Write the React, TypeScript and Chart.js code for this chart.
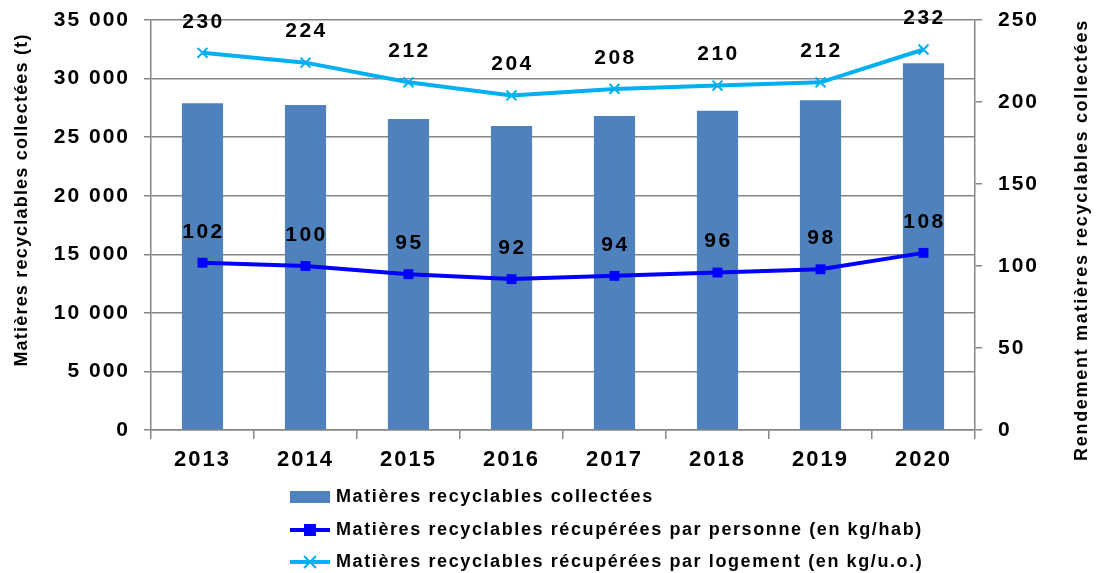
import React, { useEffect, useRef } from 'react';
import { Chart, registerables } from 'chart.js';
Chart.register(...registerables);

const years = ['2013', '2014', '2015', '2016', '2017', '2018', '2019', '2020'];
const tonnage = [27900, 27750, 26550, 25950, 26800, 27250, 28150, 31300];
const perPerson = [102, 100, 95, 92, 94, 96, 98, 108];
const perDwelling = [230, 224, 212, 204, 208, 210, 212, 232];

const labelBars = 'Matières recyclables collectées';
const labelPerson = 'Matières recyclables récupérées par personne (en kg/hab)';
const labelDwelling = 'Matières recyclables récupérées par logement (en kg/u.o.)';
const leftTitle = 'Matières recyclables collectées (t)';
const rightTitle = 'Rendement matières recyclables collectées';

const FONT = '"Liberation Sans", Arial, sans-serif';
const GRID = '#868686';
const BAR = '#4F81BD';
const BLUE = '#0000FF';
const CYAN = '#00B0F0';

const fmt = (v: number) => String(v).replace(/\B(?=(\d{3})+(?!\d))/g, ' ');

const customPlugin = {
  id: 'custom',
  beforeDraw(chart: any) {
    chart.ctx.letterSpacing = '2px';
  },
  afterDatasetsDraw(chart: any) {
    const ctx = chart.ctx;
    ctx.save();
    ctx.font = `bold 21px ${FONT}`;
    ctx.letterSpacing = '2.5px';
    ctx.fillStyle = '#000';
    ctx.textAlign = 'center';
    ctx.textBaseline = 'middle';
    [1, 2].forEach((di) => {
      const meta = chart.getDatasetMeta(di);
      const data = chart.data.datasets[di].data;
      meta.data.forEach((pt: any, i: number) => {
        ctx.fillText(String(data[i]), pt.x + 1, pt.y - 31);
      });
    });
    ctx.restore();
  },
  afterDraw(chart: any) {
    const ctx = chart.ctx;
    ctx.save();
    ctx.font = `bold 18px ${FONT}`;
    ctx.letterSpacing = '1.2px';
    ctx.fillStyle = '#000';
    ctx.textAlign = 'center';
    ctx.textBaseline = 'middle';
    ctx.translate(22, 200);
    ctx.rotate(-Math.PI / 2);
    ctx.fillText(leftTitle, 0, 0);
    ctx.restore();
    ctx.save();
    ctx.font = `bold 18px ${FONT}`;
    ctx.letterSpacing = '1.7px';
    ctx.fillStyle = '#000';
    ctx.textAlign = 'center';
    ctx.textBaseline = 'middle';
    ctx.translate(1082, 240);
    ctx.rotate(-Math.PI / 2);
    ctx.fillText(rightTitle, 0, 0);
    ctx.restore();

    // legend
    ctx.save();
    const x0 = 290, x1 = 330, tx = 336;
    const rows = [497, 530, 562];
    ctx.font = `bold 18px ${FONT}`;
    ctx.letterSpacing = '1.6px';
    ctx.textAlign = 'left';
    ctx.textBaseline = 'middle';
    ctx.fillStyle = BAR;
    ctx.fillRect(x0, rows[0] - 6, x1 - x0, 12);
    ctx.strokeStyle = BLUE;
    ctx.lineWidth = 4;
    ctx.beginPath();
    ctx.moveTo(x0, rows[1]);
    ctx.lineTo(x1, rows[1]);
    ctx.stroke();
    ctx.fillStyle = BLUE;
    ctx.fillRect((x0 + x1) / 2 - 6, rows[1] - 6, 12, 12);
    ctx.strokeStyle = CYAN;
    ctx.beginPath();
    ctx.moveTo(x0, rows[2]);
    ctx.lineTo(x1, rows[2]);
    ctx.stroke();
    ctx.lineWidth = 2;
    const cx = (x0 + x1) / 2;
    ctx.beginPath();
    ctx.moveTo(cx - 6, rows[2] - 6);
    ctx.lineTo(cx + 6, rows[2] + 6);
    ctx.moveTo(cx + 6, rows[2] - 6);
    ctx.lineTo(cx - 6, rows[2] + 6);
    ctx.stroke();
    ctx.fillStyle = '#000';
    ctx.fillText(labelBars, tx, rows[0]);
    ctx.fillText(labelPerson, tx, rows[1]);
    ctx.fillText(labelDwelling, tx, rows[2]);
    ctx.restore();
  },
};

export default function App() {
  const ref = useRef<HTMLCanvasElement>(null);
  useEffect(() => {
    document.body.style.margin = '0';
    const chart = new Chart(ref.current!, {
      type: 'bar',
      data: {
        labels: years,
        datasets: [
          {
            type: 'bar',
            label: labelBars,
            data: tonnage,
            backgroundColor: BAR,
            yAxisID: 'y',
            barPercentage: 0.4,
            categoryPercentage: 1,
            order: 3,
          },
          {
            type: 'line',
            label: labelPerson,
            data: perPerson,
            borderColor: BLUE,
            backgroundColor: BLUE,
            borderWidth: 4,
            pointStyle: 'rect',
            pointRadius: 7,
            pointBorderWidth: 0,
            yAxisID: 'y1',
            order: 1,
          },
          {
            type: 'line',
            label: labelDwelling,
            data: perDwelling,
            borderColor: CYAN,
            backgroundColor: CYAN,
            borderWidth: 4,
            pointStyle: 'crossRot',
            pointRadius: 7,
            pointBorderWidth: 2,
            yAxisID: 'y1',
            order: 2,
          },
        ] as any,
      },
      options: {
        animation: false,
        responsive: false,
        layout: { padding: { top: 20, bottom: 93, left: 0, right: 0 } },
        plugins: { legend: { display: false }, tooltip: { enabled: false } },
        scales: {
          x: {
            offset: true,
            grid: { offset: true, drawOnChartArea: false, drawTicks: true, tickLength: 9, color: GRID, lineWidth: 1.5 },
            border: { color: GRID, width: 1.5 },
            ticks: { color: '#000', font: { family: FONT, size: 22, weight: 'bold' }, padding: 8 },
            afterFit: (s: any) => { s.height = 50; s.paddingLeft = 0; s.paddingRight = 0; },
          },
          y: {
            position: 'left',
            min: 0,
            max: 35000,
            grid: { color: GRID, lineWidth: 1.5, tickLength: 7 },
            border: { color: GRID, width: 1.5 },
            ticks: { stepSize: 5000, color: '#000', padding: 14, font: { family: FONT, size: 21, weight: 'bold' }, callback: (v: any) => fmt(Number(v)) },
            afterFit: (s: any) => { s.width = 151; s.paddingTop = 0; s.paddingBottom = 0; },
          },
          y1: {
            position: 'right',
            min: 0,
            max: 250,
            grid: { drawOnChartArea: false, color: GRID, lineWidth: 1.5, tickLength: 7 },
            border: { color: GRID, width: 1.5 },
            ticks: { stepSize: 50, color: '#000', padding: 16, font: { family: FONT, size: 21, weight: 'bold' } },
            afterFit: (s: any) => { s.width = 132; s.paddingTop = 0; s.paddingBottom = 0; },
          },
        },
      } as any,
      plugins: [customPlugin],
    });
    return () => chart.destroy();
  }, []);
  return (
    <div style={{ position: 'absolute', left: 0, top: 0, width: 1107, height: 573 }}>
      <canvas ref={ref} width={1107} height={573} />
    </div>
  );
}
